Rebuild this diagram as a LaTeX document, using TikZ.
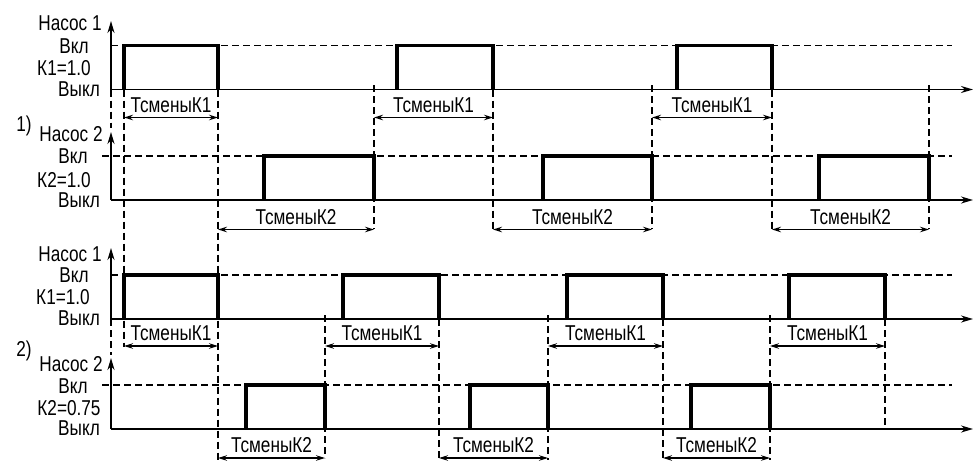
\documentclass[tikz,border=0pt]{standalone}
\usepackage{fontspec}
\setmainfont[FakeStretch=0.8]{Liberation Sans}
\usetikzlibrary{arrows.meta}

\begin{document}
\begin{tikzpicture}[
  x=1pt, y=-1pt,
  font=\fontsize{21.5}{24}\selectfont,
  % --- Styles ---
  axis/.style={
    line width=1.8pt,
    -{Stealth[length=12pt, width=7pt]}
  },
  pulse/.style={
    line width=3.4pt,
    line join=miter
  },
  guide/.style={
    line width=1.3pt,
    dash pattern=on 7pt off 4pt
  },
  dim/.style={
    line width=1.3pt,
    {Stealth[length=9pt, width=5.5pt]}-{Stealth[length=9pt, width=5.5pt]}
  },
  lbl/.style={
    inner sep=0pt,
    anchor=base
  },
  tlbl/.style={
    inner sep=0pt,
    anchor=base,
    yshift=5.5pt
  }
]
\useasboundingbox (0,0) rectangle (976,460);

% ---- VERTICAL GUIDES ----
% Section 1)
\foreach \x/\a/\b in {111/89.5/128, 124/89.5/347, 218/89.5/460,
                      374/85/229, 493/89.5/229, 652/85/229,
                      772/89.5/229, 929/85/229}
  \draw[guide] (\x,\a) -- (\x,\b);
% Section 2)
\foreach \x/\a/\b in {111/319/355, 325/315/458, 439/319/460,
                      548/315/460, 663/319/460, 770/315/460,
                      885/319/429}
  \draw[guide] (\x,\a) -- (\x,\b);

% ---- ON LEVELS ----
\draw[guide] (111,45.5) -- (952,45.5);
\draw[guide] (102,156) -- (952,156);
\draw[guide] (111,275) -- (952,275);
\draw[guide] (102,385) -- (952,385);

% ---- AXES ----
\foreach \b/\t in {89.5/21, 200/132, 319/248, 429/358} {
  \draw[axis] (111,\b) -- (111,\t);
  \draw[axis] (111,\b) -- (973,\b);
}

% ---- SECTION 1: PUMP 1 ----
\node[lbl] (pumpA) at (70,31) {Насос 1};
\node[lbl] (onA) at (74,53) {Вкл};
\node[lbl] (kA) at (64,75) {К1=1.0};
\node[lbl] (offA) at (79,96) {Выкл};
\foreach \s/\e in {124/218, 397/493, 677/772}
  \draw[pulse] (\s,89.5) -- (\s,45.5) -- (\e,45.5) -- (\e,89.5);
\foreach \s/\e in {124/218, 374/493, 652/772}
  \draw[dim] (\s,117.5) -- node[tlbl] {ТсменыК1} (\e,117.5);

% ---- SECTION 1: PUMP 2 ----
\node[lbl] (secA) at (24,131) {1)};
\node[lbl] (pumpB) at (71,141) {Насос 2};
\node[lbl] (onB) at (73,163) {Вкл};
\node[lbl] (kB) at (64,187) {К2=1.0};
\node[lbl] (offB) at (79,207) {Выкл};
\foreach \s/\e in {264/374, 543/652, 819/929}
  \draw[pulse] (\s,200) -- (\s,156) -- (\e,156) -- (\e,200);
\foreach \s/\e in {218/374, 493/652, 772/929}
  \draw[dim] (\s,229.5) -- node[tlbl] {ТсменыК2} (\e,229.5);

% ---- SECTION 2: PUMP 1 ----
\node[lbl] (pumpC) at (70,261) {Насос 1};
\node[lbl] (onC) at (74,282) {Вкл};
\node[lbl] (kC) at (63,304) {К1=1.0};
\node[lbl] (offC) at (79,325) {Выкл};
\foreach \s/\e in {124/218, 343/439, 567/663, 789/885}
  \draw[pulse] (\s,319) -- (\s,275) -- (\e,275) -- (\e,319);
\foreach \s/\e in {124/218, 325/439, 548/663, 770/885}
  \draw[dim] (\s,346) -- node[tlbl] {ТсменыК1} (\e,346);

% ---- SECTION 2: PUMP 2 ----
\node[lbl] (secB) at (24,356) {2)};
\node[lbl] (pumpD) at (71,371) {Насос 2};
\node[lbl] (onD) at (73,393) {Вкл};
\node[lbl] (kD) at (69,415) {К2=0.75};
\node[lbl] (offD) at (79,435) {Выкл};
\foreach \s/\e in {246/325, 470/548, 691/770}
  \draw[pulse] (\s,429) -- (\s,385) -- (\e,385) -- (\e,429);
\foreach \s/\e in {218/325, 439/548, 663/770}
  \draw[dim] (\s,458) -- node[tlbl] {ТсменыК2} (\e,458);

\end{tikzpicture}
\end{document}
